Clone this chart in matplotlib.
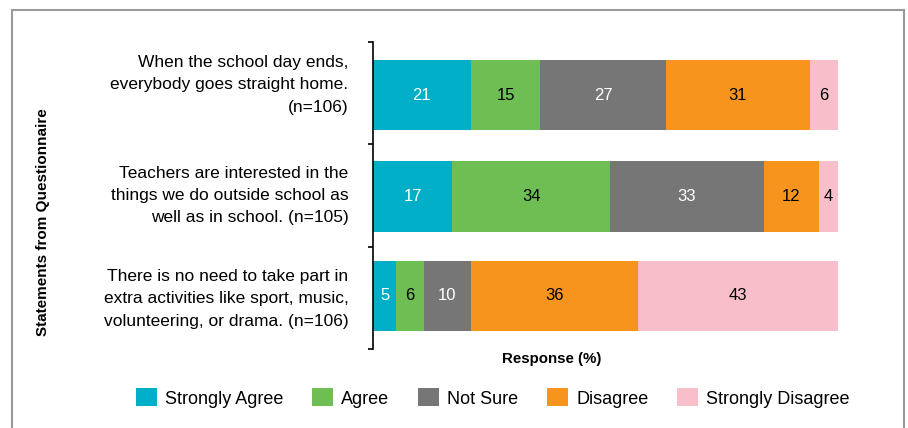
import numpy as np
import matplotlib.pyplot as plt
from matplotlib.patches import Rectangle

plt.rcParams['font.family'] = ['Liberation Sans', 'DejaVu Sans']

statements = ['When the school day ends,\neverybody goes straight home.\n(n=106)',
              'Teachers are interested in the\nthings we do outside school as\nwell as in school. (n=105)',
              'There is no need to take part in\nextra activities like sport, music,\nvolunteering, or drama. (n=106)']
responses = ['Strongly Agree', 'Agree', 'Not Sure', 'Disagree', 'Strongly Disagree']
strongly_agree = [21, 17, 5]
agree = [15, 34, 6]
not_sure = [27, 33, 10]
disagree = [31, 12, 36]
strongly_disagree = [6, 4, 43]

colors = ['#00AEC7', '#6FBE54', '#767676', '#F7941E', '#F8BFCA']
text_colors = ['white', 'black', 'white', 'black', 'black']

fig = plt.figure(figsize=(9.08, 4.28), dpi=100)
ax = fig.add_axes([373/908, 1-349/428, (838-373)/908, (349-42)/428])

# frame around the figure
fig.patches.append(Rectangle((12/908, -0.1), (904-12)/908, 1.1 - 10/428, transform=fig.transFigure,
                             fill=False, edgecolor='#9a9a9a', linewidth=1.5, clip_on=False))

data = [strongly_agree, agree, not_sure, disagree, strongly_disagree]
ypos = np.array([1.98, 0.99, 0.02])
left = np.zeros(3)
for i in range(5):
    vals = np.array(data[i])
    ax.barh(ypos, vals, left=left, height=0.685, color=colors[i], label=responses[i])
    for j in range(3):
        ax.text(left[j] + vals[j]/2., ypos[j], str(vals[j]), ha='center', va='center',
                color=text_colors[i], fontsize=12)
    left = left + vals

ax.set_xlim(0, 100)
ax.set_ylim(-0.5, 2.5)
ax.set_yticks([-0.5, 0.5, 1.5, 2.5])
ax.set_yticklabels([])
ax.tick_params(axis='y', length=3.5, width=1.2, direction='out')
ax.set_xticks([])
for s in ['top', 'right', 'bottom']:
    ax.spines[s].set_visible(False)
ax.spines['left'].set_linewidth(1.2)

label_y = [2.08, 1.0, -0.01]
for j in range(3):
    ax.text(-5.3, label_y[j], statements[j], ha='right', va='center', fontsize=12.5,
            linespacing=1.62, transform=ax.transData, clip_on=False)

fig.text(552/908, 1-359/428, 'Response (%)', ha='center', va='center', fontsize=10.8, fontweight='bold')
fig.text(43/908, 1-222/428, 'Statements from Questionnaire', ha='center', va='center',
         rotation=90, fontsize=11, fontweight='bold')

fig.legend(loc='center', bbox_to_anchor=(493/908, 1-398/428), ncol=5, frameon=False,
           fontsize=13, handlelength=1.15, handleheight=1.15, handletextpad=0.45,
           columnspacing=1.6, borderpad=0)

fig.savefig('out.png', dpi=100)
